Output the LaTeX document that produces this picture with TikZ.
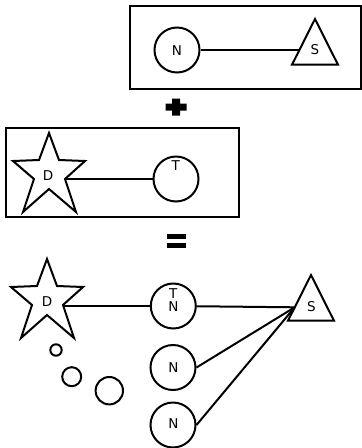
\documentclass[tikz,border=0pt]{standalone}
\usepackage{fontspec}
\setmainfont{DejaVu Sans}
\begin{document}
\begin{tikzpicture}[x=1pt,y=-1pt,line width=2pt,line join=miter,
  circ/.style={draw,circle,minimum size=45pt,inner sep=0pt},
  dot/.style={draw,circle,inner sep=0pt},
  lbl/.style={inner sep=0pt,font=\fontsize{13.5}{15}\selectfont},
  frame/.style={draw},
  mystar/.pic={\draw (0,-41) -- (10,-14) -- (36,-13) -- (16,5) -- (27,38) -- (0,15) -- (-26,38) -- (-15,5) -- (-36,-13) -- (-10,-14) -- cycle;},
  mytri/.pic={\draw (0,0) -- (23,45.7) -- (-23,45.7) -- cycle;}]
\useasboundingbox (0,0) rectangle (362,448);

% top box: N -- S
\draw[frame] (130,6) rectangle (361,89);
\node[circ] (n1) at (177,50) {};
\node[lbl] (n1l) at (177,51) {N};
\pic at (315,19) {mytri};
\node[lbl] (s1l) at (315,50) {S};
\coordinate (s1in) at (299.4,50);
\draw (n1) -- (s1in);

% plus
\fill (172,98.5) -- (180,98.5) -- (180,103.5) -- (186.5,103.5) -- (186.5,110.5) -- (180,110.5) -- (180,115.5) -- (172,115.5) -- (172,110.5) -- (165.5,110.5) -- (165.5,103.5) -- (172,103.5) -- cycle;

% second box: D -- T
\draw[frame] (6,128) rectangle (239,217);
\pic at (49,174) {mystar};
\node[lbl] (d1l) at (48,175.5) {D};
\coordinate (d1r) at (65,179);
\node[circ] (t1) at (176,179) {};
\node[lbl] (t1l) at (175.7,165.7) {T};
\draw (d1r) -- (t1);

% equals
\fill (166.7,234.3) rectangle (186,239.3);
\fill (166.7,242.7) rectangle (186,248);

% result
\pic at (47,300) {mystar};
\node[lbl] (d2l) at (47,301.7) {D};
\coordinate (d2r) at (63,306);
\node[circ] (tn) at (173.3,306) {};
\node[lbl] (tnt) at (173.3,293.3) {T};
\node[lbl] (tnn) at (173.3,306.7) {N};
\node[circ] (n2) at (173,367.5) {};
\node[lbl] (n2l) at (173.3,367.3) {N};
\node[circ] (n3) at (173,425) {};
\node[lbl] (n3l) at (173.3,424) {N};
\pic at (311,275) {mytri};
\node[lbl] (s2l) at (311.5,306.7) {S};
\coordinate (s2in) at (294.7,307.3);
\draw (d2r) -- (tn);
\draw (tn) -- (s2in);
\draw (n2.east) -- (s2in);
\draw (n3.east) -- (s2in);

% thought bubbles
\node[dot,minimum size=11.4pt] (c1) at (56,350) {};
\node[dot,minimum size=19pt] (c2) at (71.7,376.7) {};
\node[dot,minimum size=27.4pt] (c3) at (109.3,390.7) {};
\end{tikzpicture}
\end{document}
